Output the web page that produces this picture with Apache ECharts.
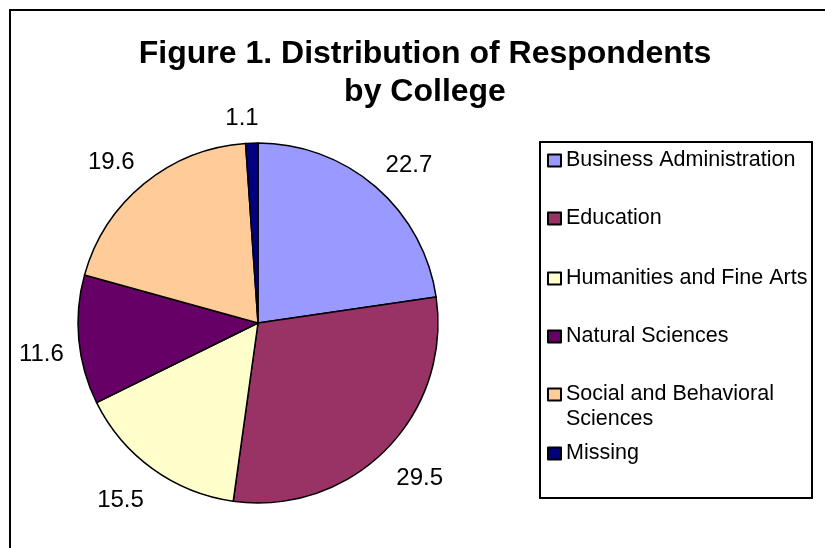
<!DOCTYPE html>
<html><head><meta charset="utf-8">
<script src="https://cdn.jsdelivr.net/npm/echarts@6/dist/echarts.min.js"></script>
<style>html,body{margin:0;padding:0;background:#fff}#c{width:825px;height:548px}</style>
</head><body><div id="c"></div>
<script>
// ---- data ----
const categories = ['Business Administration', 'Education', 'Humanities and Fine Arts', 'Natural Sciences', 'Social and Behavioral Sciences', 'Missing'];
const values = [22.7, 29.5, 15.5, 11.6, 19.6, 1.1];
const legendLabels = ['Business Administration', 'Education', 'Humanities and Fine Arts', 'Natural Sciences', 'Social and Behavioral\nSciences', 'Missing'];
const titleText = 'Figure 1. Distribution of Respondents\nby College';

// ---- styles / layout ----
const colors = ['#9999FF', '#993366', '#FFFFCC', '#660066', '#FFCC99', '#000080'];
const FONT = '"Liberation Sans", Arial, Helvetica, sans-serif';
const PIE_CX = 258, PIE_CY = 323, PIE_R = 180, LABEL_GAP = 15;
const legendCenterY = [160.5, 218.5, 278.5, 336.5, 394.5, 453.5];
const LEG_FS = 21.5, LEG_LH = 25;

const legends = categories.map((name, i) => {
  const multi = legendLabels[i].indexOf('\n') >= 0;
  // for a 2-line label, add an empty line on top so the first line sits beside the icon
  const txt = multi ? '\u00a0\n' + legendLabels[i] : legendLabels[i];
  return {
    data: [name],
    orient: 'vertical',
    left: 547,
    top: multi ? legendCenterY[i] - LEG_LH * 1.5 : legendCenterY[i] - LEG_LH / 2,
    padding: 0,
    itemWidth: 13,
    itemHeight: 12,
    icon: 'rect',
    selectedMode: false,
    itemStyle: { borderColor: '#000', borderWidth: 2 },
    formatter: () => txt,
    textStyle: { fontFamily: FONT, fontSize: LEG_FS, lineHeight: LEG_LH, color: '#000' }
  };
});

const option = {
  backgroundColor: '#fff',
  animation: false,
  title: {
    text: titleText,
    left: 425,
    top: 35,
    padding: 0,
    textAlign: 'center',
    textStyle: { fontFamily: FONT, fontSize: 32, fontWeight: 'bold', lineHeight: 38, color: '#000' }
  },
  legend: legends,
  graphic: [
    { type: 'polyline', silent: true, z: -1, shape: { points: [[10, 548], [10, 10], [825, 10]] }, style: { stroke: '#000', lineWidth: 2, fill: null } },
    { type: 'rect', silent: true, z: -1, shape: { x: 540, y: 142, width: 272, height: 356 }, style: { stroke: '#000', lineWidth: 2, fill: '#fff' } }
  ],
  series: [{
    type: 'pie',
    center: [PIE_CX, PIE_CY],
    radius: PIE_R,
    startAngle: 90,
    clockwise: true,
    avoidLabelOverlap: false,
    silent: true,
    emphasis: { disabled: true },
    itemStyle: { borderColor: '#000', borderWidth: 1.5 },
    label: {
      show: true, position: 'outside', distanceToLabelLine: 0,
      formatter: p => p.value.toFixed(1),
      fontFamily: FONT, fontSize: 24, lineHeight: 24, color: '#000'
    },
    labelLine: { show: false, length: LABEL_GAP, length2: 0 },
    // place the label box so its corner nearest the pie touches the anchor point
    labelLayout: p => {
      const r = p.labelRect;
      const cy = r.y + r.height / 2;
      const anchorX = p.align === 'right' ? r.x + r.width : r.x;
      const R = PIE_R + LABEL_GAP;
      const ux = (anchorX - PIE_CX) / R;
      const uy = (cy - PIE_CY) / R;
      const dy = cy < PIE_CY ? -10 : 12 + 9 * uy;
      const near = Math.max(0, 1 - Math.abs(ux) / 0.3);
      const dx = -Math.sign(ux) * 0.5 * (r.width / 2) * near;
      return { dx: dx, dy: dy };
    },
    data: categories.map((n, i) => ({ name: n, value: values[i], itemStyle: { color: colors[i] } }))
  }]
};

const chart = echarts.init(document.getElementById('c'), null, { renderer: 'canvas' });
chart.setOption(option);
</script>
</body></html>
